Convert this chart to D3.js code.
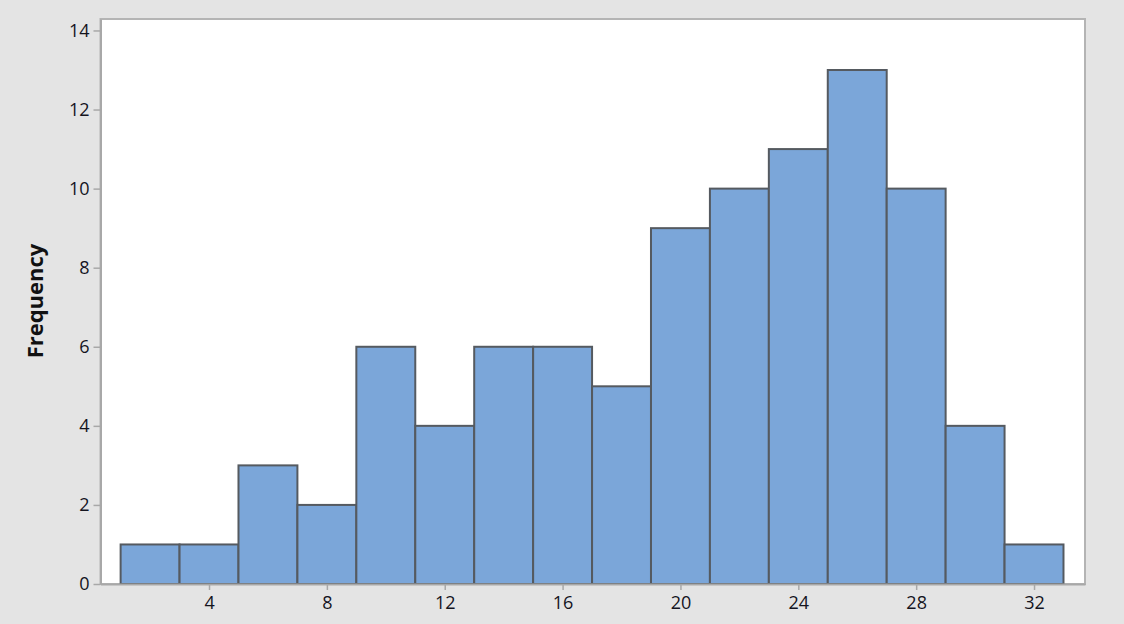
<!DOCTYPE html>
<html><head><meta charset="utf-8">
<script src="https://cdn.jsdelivr.net/npm/d3@7"></script>
<style>body{margin:0;background:#e4e4e4;}svg{display:block;}</style>
</head><body><svg id="c" width="1124" height="624"></svg>
<script>
const binStarts = [1,3,5,7,9,11,13,15,17,19,21,23,25,27,29,31];
const binWidth = 2;
const counts = [1,1,3,2,6,4,6,6,5,9,10,11,13,10,4,1];
const xTicks = [4,8,12,16,20,24,28,32];
const yTicks = [0,2,4,6,8,10,12,14];
const yLabel = "Frequency";

const svg = d3.select("#c");
const L=100.5, R=1085, T=19, B=584;
const x = d3.scaleLinear().domain([0.317,33.73]).range([L,R]);
const y = d3.scaleLinear().domain([0,14.29]).range([B,T]);

svg.append("rect").attr("width",1124).attr("height",624).attr("fill","#e4e4e4");
svg.append("rect").attr("x",L).attr("y",T).attr("width",R-L).attr("height",B-T)
  .attr("fill","#fff").attr("stroke","#b4b4b4").attr("stroke-width",2);

svg.append("g").selectAll("rect").data(counts).join("rect")
  .attr("x",(d,i)=>x(binStarts[i]))
  .attr("width",(d,i)=>x(binStarts[i]+binWidth)-x(binStarts[i]))
  .attr("y",d=>y(d)).attr("height",d=>y(0)-y(d))
  .attr("fill","#7ba6d9").attr("stroke","#555a60").attr("stroke-width",2);

const font = "'Segoe UI','Open Sans','DejaVu Sans',sans-serif";
const xa = svg.append("g").attr("transform",`translate(0,${B})`)
  .call(d3.axisBottom(x).tickValues(xTicks).tickSize(6).tickSizeOuter(0).tickPadding(6));
const ya = svg.append("g").attr("transform",`translate(${L},0)`)
  .call(d3.axisLeft(y).tickValues(yTicks).tickSize(7).tickSizeOuter(0).tickPadding(4));
[xa,ya].forEach(a=>{
  a.select(".domain").attr("stroke","#a8a8a8").attr("stroke-width",2);
  a.selectAll(".tick line").attr("stroke","#a8a8a8").attr("stroke-width",1.5);
  a.selectAll("text").attr("fill","#14141e").style("font-family",font).style("font-size","18px").style("font-weight","500");
});

svg.append("text").text(yLabel)
  .attr("transform","translate(43,301) rotate(-90)")
  .attr("text-anchor","middle")
  .style("font-family",font).style("font-size","22px").style("font-weight","bold").attr("fill","#111");
</script></body></html>
